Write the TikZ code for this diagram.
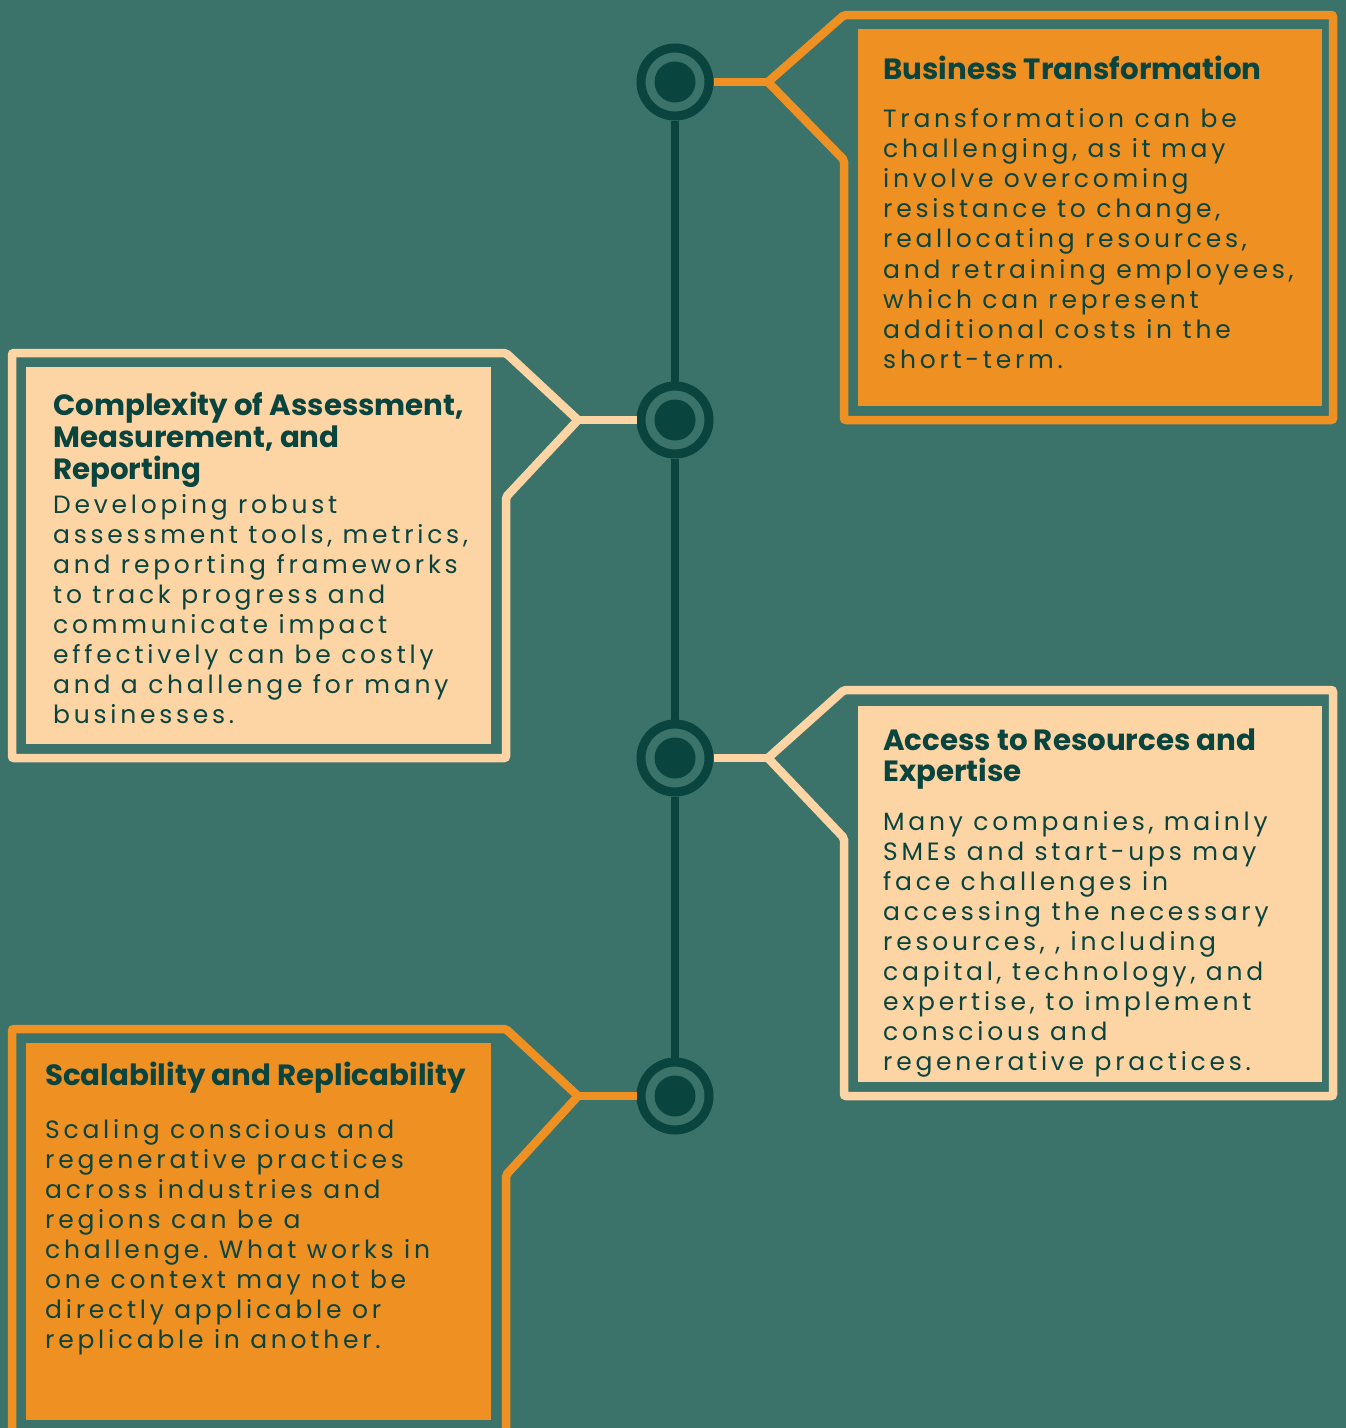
\documentclass[tikz,border=0pt]{standalone}
\usepackage{fontspec}
\setmainfont{Poppins}
\newfontfamily\bodyfont[LetterSpace=15]{Poppins}
\frenchspacing
\definecolor{bgteal}{RGB}{59,114,106}
\definecolor{darkteal}{RGB}{10,68,62}
\definecolor{orng}{RGB}{238,144,34}
\definecolor{peach}{RGB}{253,212,164}
\tikzset{
  ring/.style={circle, draw=darkteal, line width=9pt, minimum size=68pt, inner sep=0pt},
  dot/.style={circle, fill=darkteal, minimum size=41pt, inner sep=0pt},
  frame/.style={line width=8.5pt, rounded corners=2pt, line join=miter},
  link/.style={line width=8.5pt},
  bodytxt/.style={anchor=base west, inner sep=0pt, text=darkteal, font=\bodyfont\frenchspacing\fontsize{25}{30}\selectfont},
  titletxt/.style={anchor=base west, inner sep=0pt, text=darkteal, font=\bfseries\fontsize{29.3}{32}\selectfont},
}
\begin{document}
\begin{tikzpicture}[x=1pt,y=-1pt]
\useasboundingbox (0,0) rectangle (1346,1428);
\fill[bgteal] (0,0) rectangle (1346,1428);
% timeline nodes
\node[ring] (c1) at (675,82) {};
\node[ring] (c2) at (675,420) {};
\node[ring] (c3) at (675,758) {};
\node[ring] (c4) at (675,1096) {};
\draw[darkteal, line width=8pt] (c1) -- (c2);
\draw[darkteal, line width=8pt] (c2) -- (c3);
\draw[darkteal, line width=8pt] (c3) -- (c4);
\node[dot] (d1) at (c1) {};
\node[dot] (d2) at (c2) {};
\node[dot] (d3) at (c3) {};
\node[dot] (d4) at (c4) {};
% junction coordinates
\coordinate (j1) at (768,82);
\coordinate (j2) at (578,420);
\coordinate (j3) at (768,758);
\coordinate (j4) at (578,1096);
\draw[orng, link] (c1) -- (j1);
\draw[peach, link] (c2) -- (j2);
\draw[peach, link] (c3) -- (j3);
\draw[orng, link] (c4) -- (j4);
% box 1
\fill[orng] (858,29) rectangle (1322,406);
\draw[orng, frame] (j1) -- (844,15) -- (1333,15) -- (1333,420) -- (844,420) -- (844,160) -- cycle;
% box 2
\fill[peach] (26,367) rectangle (491,744);
\draw[peach, frame] (j2) -- (506,353) -- (12,353) -- (12,758) -- (506,758) -- (506,497) -- cycle;
% box 3
\fill[peach] (858,706) rectangle (1322,1082);
\draw[peach, frame] (j3) -- (844,690) -- (1333,690) -- (1333,1096) -- (844,1096) -- (844,838) -- cycle;
% box 4
\fill[orng] (26,1043) rectangle (491,1420);
\draw[orng, frame] (j4) -- (506,1029) -- (12,1029) -- (12,1436) -- (506,1436) -- (506,1175) -- cycle;
% texts box 1
\node[titletxt] (t1) at (883,79) {Business Transformation};
\foreach \ln [count=\i] in {{Transformation can be},{challenging, as it may},{involve overcoming},{resistance to change,},{reallocating resources,},{and retraining employees,},{which can represent},{additional costs in the},{short-term.}}
  \node[bodytxt] (ba\i) at (883,{127+30.2*(\i-1)}) {\ln};
% texts box 2
\foreach \ln [count=\i] in {{Complexity of Assessment,},{Measurement, and},{Reporting}}
  \node[titletxt] (tb\i) at (53,{415+32*(\i-1)}) {\ln};
\foreach \ln [count=\i] in {{Developing robust},{assessment tools, metrics,},{and reporting frameworks},{to track progress and},{communicate impact},{effectively can be costly},{and a challenge for many},{businesses.}}
  \node[bodytxt] (bb\i) at (53,{513+30*(\i-1)}) {\ln};
% texts box 3
\foreach \ln [count=\i] in {{Access to Resources and},{Expertise}}
  \node[titletxt] (tc\i) at (883,{750+31*(\i-1)}) {\ln};
\foreach \ln [count=\i] in {{Many companies, mainly},{SMEs and start-ups may},{face challenges in},{accessing the necessary},{resources, , including},{capital, technology, and},{expertise, to implement},{conscious and},{regenerative practices.}}
  \node[bodytxt] (bc\i) at (883,{830+30*(\i-1)}) {\ln};
% texts box 4
\node[titletxt] (td) at (45,1085) {Scalability and Replicability};
\foreach \ln [count=\i] in {{Scaling conscious and},{regenerative practices},{across industries and},{regions can be a},{challenge. What works in},{one context may not be},{directly applicable or},{replicable in another.}}
  \node[bodytxt] (bd\i) at (45,{1138+30*(\i-1)}) {\ln};
\end{tikzpicture}
\end{document}
